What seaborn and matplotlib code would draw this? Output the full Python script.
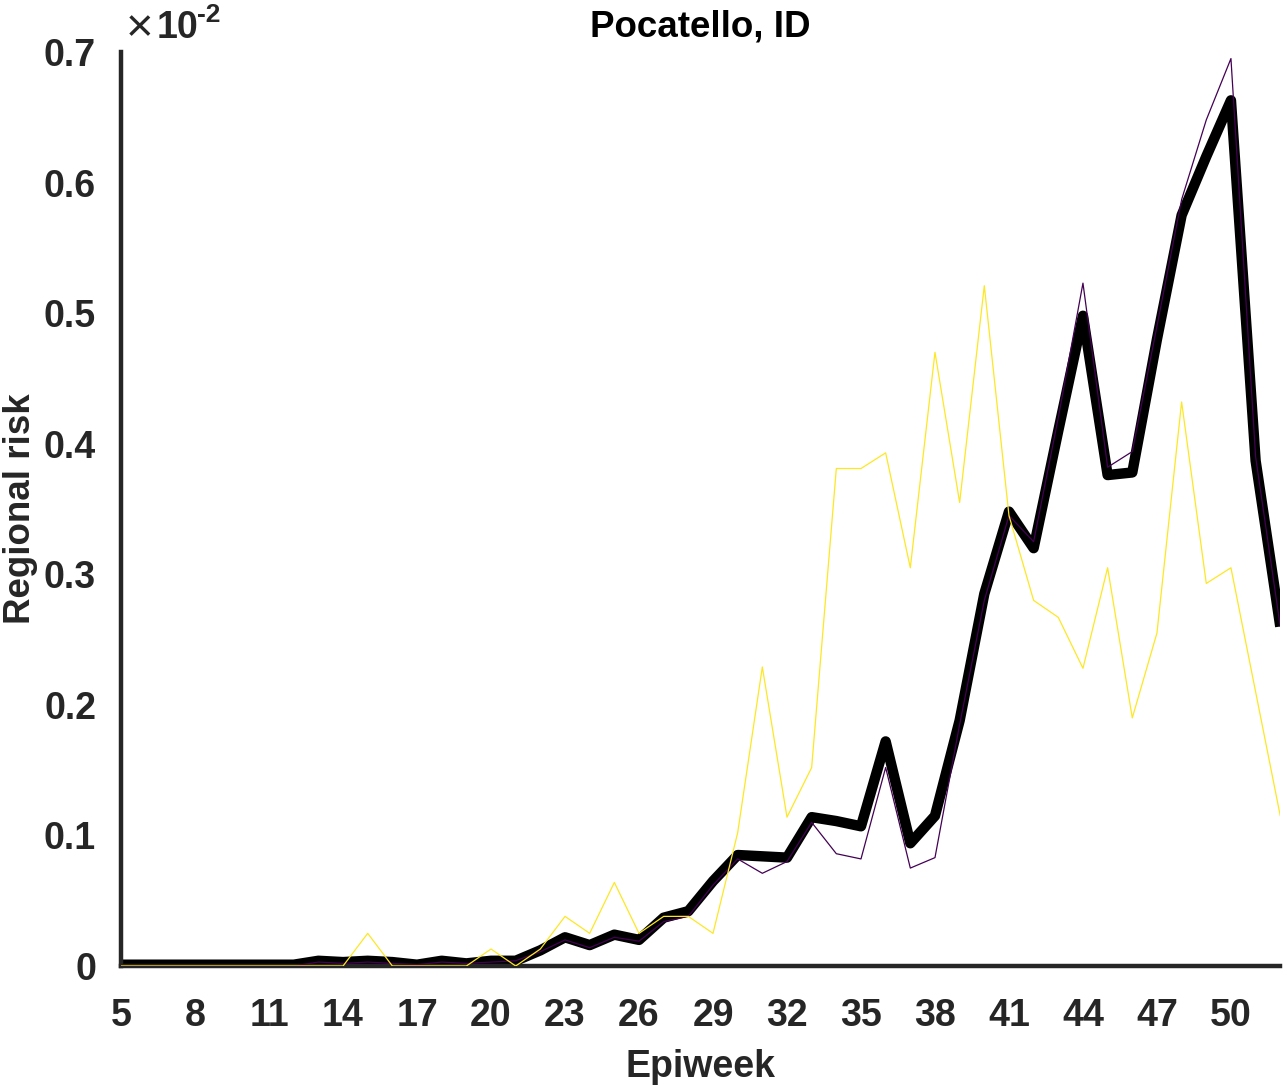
import numpy as np
import pandas as pd
import matplotlib
matplotlib.use("Agg")
import matplotlib.pyplot as plt
import seaborn as sns

# Epiweeks and regional risk (in units of 1e-2)
weeks = list(range(5, 53))

risk_mean = [0.001, 0.001, 0.001, 0.001, 0.001, 0.001, 0.001, 0.001,
             0.004, 0.003, 0.004, 0.003, 0.001, 0.004, 0.002, 0.004,
             0.004, 0.012, 0.022, 0.016, 0.024, 0.020, 0.037, 0.042,
             0.065, 0.085, 0.084, 0.083, 0.114, 0.111, 0.107, 0.172,
             0.094, 0.115, 0.188, 0.285, 0.348, 0.320, 0.410, 0.498,
             0.376, 0.378, 0.480, 0.575, 0.620, 0.663, 0.387, 0.260]

risk_a = [0.0, 0.0, 0.0, 0.0, 0.0, 0.0, 0.0, 0.0,
          0.003, 0.002, 0.003, 0.002, 0.001, 0.003, 0.002, 0.003,
          0.004, 0.011, 0.020, 0.014, 0.022, 0.019, 0.034, 0.038,
          0.062, 0.082, 0.071, 0.080, 0.110, 0.086, 0.082, 0.152,
          0.075, 0.083, 0.185, 0.280, 0.345, 0.325, 0.420, 0.523,
          0.382, 0.394, 0.490, 0.587, 0.648, 0.695, 0.390, 0.260]

risk_b = [0.0, 0.0, 0.0, 0.0, 0.0, 0.0, 0.0, 0.0,
          0.0, 0.0, 0.025, 0.0, 0.0, 0.0, 0.0, 0.013,
          0.0, 0.013, 0.038, 0.025, 0.064, 0.025, 0.038, 0.038,
          0.025, 0.102, 0.229, 0.114, 0.152, 0.381, 0.381, 0.393,
          0.305, 0.470, 0.355, 0.521, 0.345, 0.280, 0.267, 0.228,
          0.305, 0.190, 0.255, 0.432, 0.293, 0.305, 0.210, 0.115]

xticks = [5, 8, 11, 14, 17, 20, 23, 26, 29, 32, 35, 38, 41, 44, 47, 50]
yticks = [0, 0.1, 0.2, 0.3, 0.4, 0.5, 0.6, 0.7]
ytick_labels = ["0", "0.1", "0.2", "0.3", "0.4", "0.5", "0.6", "0.7"]

sns.set_style("white")
plt.rcParams['font.family'] = ['Liberation Sans', 'DejaVu Sans']
plt.rcParams['font.weight'] = 'bold'

df = pd.DataFrame({"week": weeks, "mean": risk_mean, "a": risk_a, "b": risk_b})

fig = plt.figure(figsize=(12.88, 10.86), dpi=100)
ax = fig.add_axes([0.094, 0.1105, 0.9, 0.8416])

sns.lineplot(data=df, x="week", y="mean", ax=ax, color="black", linewidth=7.5,
             solid_joinstyle="round", solid_capstyle="butt", zorder=2)
sns.lineplot(data=df, x="week", y="a", ax=ax, color="#440154", linewidth=0.9, zorder=3)
sns.lineplot(data=df, x="week", y="b", ax=ax, color="#FDE725", linewidth=0.9, zorder=4)

ax.set_xlim(5, 52)
ax.set_ylim(0, 0.7)
ax.set_xticks(xticks)
ax.set_yticks(yticks)
ax.set_yticklabels(ytick_labels)

tc = "#262626"
for side in ["top", "right"]:
    ax.spines[side].set_visible(False)
for side in ["left", "bottom"]:
    ax.spines[side].set_linewidth(3.2)
    ax.spines[side].set_color(tc)
ax.tick_params(axis="both", direction="out", length=8, width=3.2, colors=tc,
               labelsize=27)
ax.tick_params(axis="x", pad=15)
ax.tick_params(axis="y", pad=10)
for lab in ax.get_xticklabels() + ax.get_yticklabels():
    lab.set_fontweight("bold")

ax.set_xlabel("Epiweek", fontsize=27, fontweight="bold", color=tc, labelpad=11)
ax.set_ylabel("Regional risk", fontsize=26.5, fontweight="bold", color=tc, labelpad=4)
ax.set_title("Pocatello, ID", fontsize=26.5, fontweight="bold", color="black", pad=11.5)

# exponent label like the original figure
ax.annotate("\u00d7", xy=(0, 1), xycoords="axes fraction", xytext=(3, 8),
            textcoords="offset points", fontsize=34, fontweight="normal",
            color=tc, ha="left", va="baseline")
ax.annotate("10", xy=(0, 1), xycoords="axes fraction", xytext=(25.5, 10),
            textcoords="offset points", fontsize=27, fontweight="bold",
            color=tc, ha="left", va="baseline")
ax.annotate("-2", xy=(0, 1), xycoords="axes fraction", xytext=(55, 21.5),
            textcoords="offset points", fontsize=19, fontweight="bold",
            color=tc, ha="left", va="baseline")

fig.savefig("out.png", dpi=100)
